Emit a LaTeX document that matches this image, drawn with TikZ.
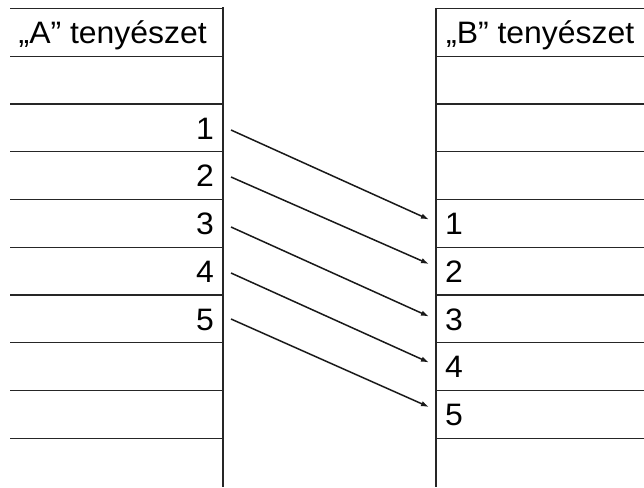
\documentclass[tikz,border=0pt]{standalone}
\usepackage{fontspec}
\setmainfont{Liberation Sans}[FakeStretch=1.03]
\usetikzlibrary{arrows.meta}
\begin{document}
\begin{tikzpicture}[x=1pt,y=-1pt,
  rule/.style={line width=1.4pt,draw=black!85},
  lbl/.style={inner sep=0pt,font=\fontsize{31}{33}\selectfont},
  arr/.style={line width=1.5pt,draw=black!90,-{Latex[length=8pt,width=5.5pt]}}]
\useasboundingbox[fill=white] (0,0) rectangle (644,487);
% left column
\draw[rule] (223,7.5) -- (223,487);
\foreach \k in {0,...,9} {
  \draw[rule] (10,{8.5+47.75*\k}) -- (223,{8.5+47.75*\k});
}
% right column
\draw[rule] (436,8) -- (436,487);
\foreach \k in {0,...,9} {
  \draw[rule] (436,{8.5+47.75*\k}) -- (644,{8.5+47.75*\k});
}
% headers
\node[lbl,anchor=base west] (ha) at (18.5,43.5) {„A" tenyészet};
\node[lbl,anchor=base west] (hb) at (446,43.5) {„B" tenyészet};
% left numbers
\node[lbl,anchor=base east] (l1) at (214,139) {1};
\node[lbl,anchor=base east] (l2) at (214,186.75) {2};
\node[lbl,anchor=base east] (l3) at (214,234.5) {3};
\node[lbl,anchor=base east] (l4) at (214,282.25) {4};
\node[lbl,anchor=base east] (l5) at (214,330) {5};
% right numbers
\node[lbl,anchor=base west] (r1) at (445,234.5) {1};
\node[lbl,anchor=base west] (r2) at (445,282.25) {2};
\node[lbl,anchor=base west] (r3) at (445,330) {3};
\node[lbl,anchor=base west] (r4) at (445,377.75) {4};
\node[lbl,anchor=base west] (r5) at (445,425.5) {5};
% arrow end points
\coordinate (s1) at (231,130);
\coordinate (s2) at (231,177);
\coordinate (s3) at (231,227);
\coordinate (s4) at (231,273);
\coordinate (s5) at (231,319);
\coordinate (e1) at (429,219.5);
\coordinate (e2) at (429,264);
\coordinate (e3) at (429,316.5);
\coordinate (e4) at (429,362.5);
\coordinate (e5) at (429,407);
\foreach \i in {1,...,5} {\draw[arr] (s\i) -- (e\i);}
\end{tikzpicture}
\end{document}
